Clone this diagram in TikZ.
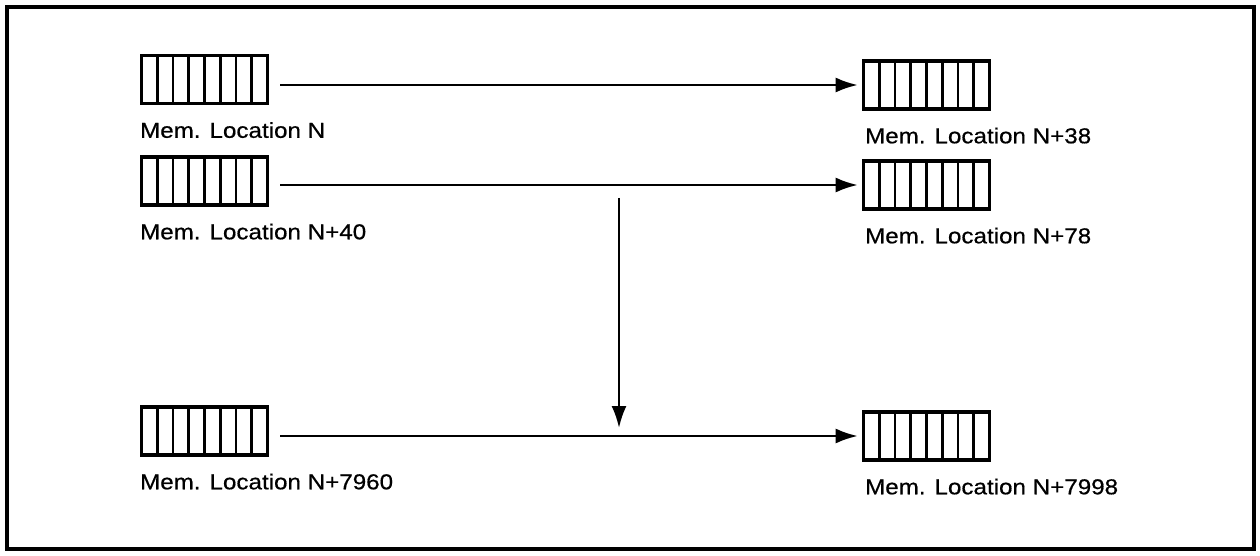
\documentclass[tikz,border=0pt]{standalone}
\usepackage{fontspec}
\newfontfamily\memfont{Liberation Sans}[FakeStretch=1.12, FakeBold=0.6]
\usepackage{tikz}
\usetikzlibrary{arrows.meta,positioning,calc}

\begin{document}
\begin{tikzpicture}[
x=0.5pt, y=-0.5pt,
memreg/.style={draw, line width=1.8pt, minimum width=63pt, minimum height=24pt, inner sep=0pt,
  path picture={\foreach \k in {1,...,7}
    \draw[line width=1.3pt] ($(path picture bounding box.south west)!\k/8!(path picture bounding box.south east)$) -- ($(path picture bounding box.north west)!\k/8!(path picture bounding box.north east)$);}},
memlbl/.style={font=\memfont\fontsize{10.8}{13}\selectfont, inner sep=0pt},
arr/.style={-{Latex[length=11pt, width=7.5pt]}, line width=1.2pt}
]
\useasboundingbox (0,0) rectangle (1260,556);
\draw[line width=1.8pt] (7,7) rectangle (1254,549);
\node[memreg] (locN) at (204.5,79.5) {};
\node[memreg] (locN40) at (204.5,181) {};
\node[memreg] (locN7960) at (204.5,431) {};
\node[memreg] (locN38) at (926.5,85) {};
\node[memreg] (locN78) at (926.5,185) {};
\node[memreg] (locN7998) at (926.5,436) {};
\node[memlbl, below right=16.25pt and 0pt of locN.south west, anchor=base west] (lblN) {Mem. Location N};
\node[memlbl, below right=16.25pt and 0pt of locN40.south west, anchor=base west] (lblN40) {Mem. Location N+40};
\node[memlbl, below right=16.25pt and 0pt of locN7960.south west, anchor=base west] (lblN7960) {Mem. Location N+7960};
\node[memlbl, below right=16.25pt and 1.5pt of locN38.south west, anchor=base west] (lblN38) {Mem. Location N+38};
\node[memlbl, below right=16.25pt and 1.5pt of locN78.south west, anchor=base west] (lblN78) {Mem. Location N+78};
\node[memlbl, below right=16.25pt and 1.5pt of locN7998.south west, anchor=base west] (lblN7998) {Mem. Location N+7998};
\coordinate (split) at (619,198);
\coordinate (merge) at (619,428);
\draw[arr, shorten <=5.5pt, shorten >=2pt] (locN.east |- locN38.west) -- (locN38.west);
\draw[arr, shorten <=5.5pt, shorten >=2pt] (locN40.east |- locN78.west) -- (locN78.west);
\draw[arr, shorten <=5.5pt, shorten >=2pt] (locN7960.east |- locN7998.west) -- (locN7998.west);
\draw[arr] (split) -- (merge);
\end{tikzpicture}
\end{document}
